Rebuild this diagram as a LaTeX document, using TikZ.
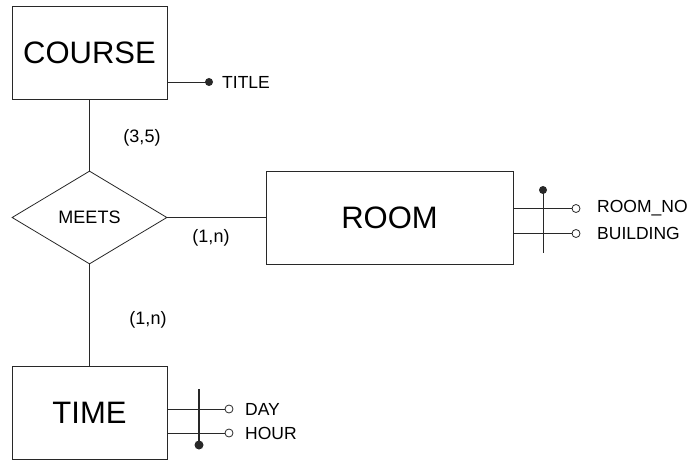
\documentclass[tikz,border=0pt]{standalone}
\usepackage{fontspec}
\setmainfont{Liberation Sans}
\usetikzlibrary{calc,positioning,shapes.geometric}
\definecolor{erLine}{RGB}{40,40,40}
\tikzset{
  entity/.style={draw=erLine,line width=0.8pt,minimum width=155pt,minimum height=93pt,
    inner sep=0pt,font=\fontsize{31}{33}\selectfont},
  relship/.style={draw=erLine,line width=0.8pt,diamond,minimum width=155pt,minimum height=93pt,
    inner sep=0pt,font=\fontsize{18}{20}\selectfont},
  attr/.style={anchor=west,inner sep=0pt,font=\fontsize{17.5}{19}\selectfont},
  card/.style={inner sep=0pt,font=\fontsize{18}{20}\selectfont},
  conn/.style={draw=erLine,line width=0.8pt}
}
\begin{document}
\begin{tikzpicture}[x=1pt,y=-1pt]
  \useasboundingbox (0,0) rectangle (690,462);
  % entities and relationship
  \node[entity] (COURSE) at (89.5,53) {COURSE};
  \node[relship] (MEETS) at (89.5,217.5) {MEETS};
  \node[entity,minimum width=247pt] (ROOM) at (389.5,218) {ROOM};
  \node[entity] (TIME) at (89.5,413) {TIME};
  \draw[conn] (COURSE.south) -- (MEETS.north);
  \draw[conn] (MEETS.east) -- (MEETS.east -| ROOM.west);
  \draw[conn] (MEETS.south) -- (TIME.north);
  \node[card] (cCourse) at (142,138) {(3,5)};
  \node[card] (cRoom) at (211,238) {(1,n)};
  \node[card] (cTime) at (148,320) {(1,n)};
  % COURSE key
  \coordinate (titleEnd) at (209,82);
  \draw[conn] (COURSE.east |- titleEnd) -- (titleEnd);
  \fill[erLine] (titleEnd) circle (4pt);
  \node[attr] (TITLE) at (222,82) {TITLE};
  % ROOM key
  \coordinate (roomNoEnd) at (576,208.5);
  \coordinate (buildingEnd) at (576,233.5);
  \coordinate (roomKeyTop) at (543,190);
  \coordinate (roomKeyBot) at (543,253);
  \draw[conn] (ROOM.east |- roomNoEnd) -- ([xshift=-4pt]roomNoEnd);
  \draw[conn] (ROOM.east |- buildingEnd) -- ([xshift=-4pt]buildingEnd);
  \draw[conn] (roomNoEnd) circle (4pt);
  \draw[conn] (buildingEnd) circle (4pt);
  \draw[conn] (roomKeyTop) -- (roomKeyBot);
  \fill[erLine] (roomKeyTop) circle (4pt);
  \node[attr] (ROOMNO) at (597,208.5) {ROOM\_NO};
  \node[attr] (BUILDING) at (597,233.5) {BUILDING};
  % TIME key
  \coordinate (dayEnd) at (229,409);
  \coordinate (hourEnd) at (229,433);
  \coordinate (timeKeyTop) at (199,389);
  \coordinate (timeKeyBot) at (199,445);
  \draw[conn] (TIME.east |- dayEnd) -- ([xshift=-4pt]dayEnd);
  \draw[conn] (TIME.east |- hourEnd) -- ([xshift=-4pt]hourEnd);
  \draw[conn] (dayEnd) circle (4pt);
  \draw[conn] (hourEnd) circle (4pt);
  \draw[conn,line width=2pt] (timeKeyTop) -- (timeKeyBot);
  \fill[erLine] (timeKeyBot) circle (4.5pt);
  \node[attr] (DAY) at (245,409) {DAY};
  \node[attr] (HOUR) at (245,433) {HOUR};
\end{tikzpicture}
\end{document}
